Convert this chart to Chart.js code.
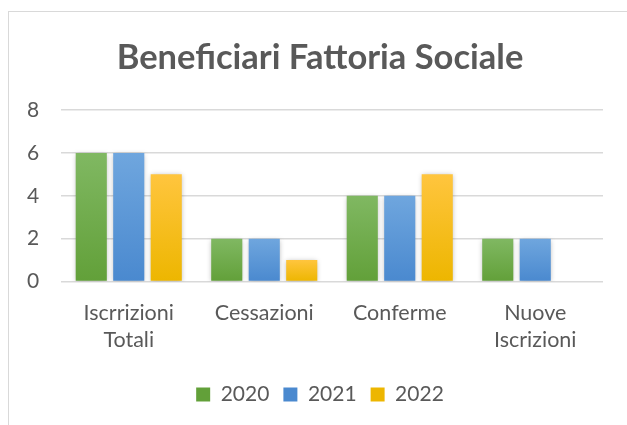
<!DOCTYPE html>
<html><head><meta charset="utf-8">
<script src="https://cdn.jsdelivr.net/npm/chart.js@4"></script>
<style>
html,body{margin:0;padding:0;background:#fff;overflow:hidden;}
#frame{position:absolute;left:8px;top:11px;width:700px;height:500px;border-left:1px solid #d9d9d9;border-top:1px solid #d9d9d9;}
#wrap{position:absolute;left:0;top:0;width:627px;height:425px;}
</style></head>
<body>
<div id="frame"></div>
<div id="wrap"><canvas id="c" width="627" height="425"></canvas></div>
<script>
const categories = [["Iscrrizioni","Totali"],"Cessazioni","Conferme",["Nuove","Iscrizioni"]];
const series2020 = [6,2,4,2];
const series2021 = [6,2,4,2];
const series2022 = [5,1,5,0];
const seriesNames = ["2020","2021","2022"];
const yTicks = [0,2,4,6,8];

const palettes = [
  ["#80b862","#62a039"],
  ["#6fa6de","#4a89cf"],
  ["#ffc53e","#edb600"]
];
function grad(idx){
  return function(ctx){
    const chart = ctx.chart;
    const area = chart.chartArea;
    if(!area) return palettes[idx][1];
    const ys = chart.scales.y;
    const v = ctx.raw || 0;
    const top = ys.getPixelForValue(v), bot = ys.getPixelForValue(0);
    if (bot - top < 1) return palettes[idx][1];
    const g = chart.ctx.createLinearGradient(0, top, 0, bot);
    g.addColorStop(0, palettes[idx][0]);
    g.addColorStop(1, palettes[idx][1]);
    return g;
  };
}
const shadow = {
  id:'shadow',
  beforeDatasetsDraw(chart){ const c=chart.ctx; c.save(); c.shadowColor='rgba(0,0,0,0.28)'; c.shadowBlur=5; c.shadowOffsetX=0; c.shadowOffsetY=1; },
  afterDatasetsDraw(chart){ chart.ctx.restore(); }
};
const font = "Lato, 'Open Sans', sans-serif";
new Chart(document.getElementById('c'), {
  type:'bar',
  data:{
    labels: categories,
    datasets:[series2020,series2021,series2022].map((d,i)=>({
      label: seriesNames[i], data: d, backgroundColor: grad(i), borderWidth:0,
      categoryPercentage:0.83, barPercentage:0.83
    }))
  },
  options:{
    responsive:false, animation:false,
    layout:{padding:{left:37,right:24,top:0,bottom:10}},
    plugins:{
      title:{display:true,text:'Beneficiari Fattoria Sociale',color:'#595959',
        font:{family:font,size:34.5,weight:'bold',lineHeight:1.2},padding:{top:37,bottom:31.6}},
      legend:{position:'bottom',labels:{color:'#595959',font:{family:font,size:21},
        boxWidth:14,boxHeight:14,padding:14,
        generateLabels(chart){return chart.data.datasets.map((ds,i)=>({text:ds.label,fillStyle:palettes[i][1],strokeStyle:palettes[i][1],lineWidth:0,datasetIndex:i,fontColor:'#595959'}));}
      }},
      tooltip:{enabled:false}
    },
    scales:{
      y:{min:0,max:8,afterBuildTicks(s){s.ticks=yTicks.map(v=>({value:v}));},
        afterFit(s){s.width=24;},
        ticks:{color:'#595959',font:{family:font,size:21},mirror:true,crossAlign:'far',padding:-34},
        grid:{color:'#d9d9d9',lineWidth:1.5,drawTicks:false},border:{display:false}},
      x:{grid:{display:false},border:{display:false},
        afterFit(s){s.height=88.5;},
        ticks:{color:'#595959',font:{family:font,size:21.5,lineHeight:1.256},padding:10,maxRotation:0}}
    }
  },
  plugins:[shadow]
});
</script>
</body></html>
